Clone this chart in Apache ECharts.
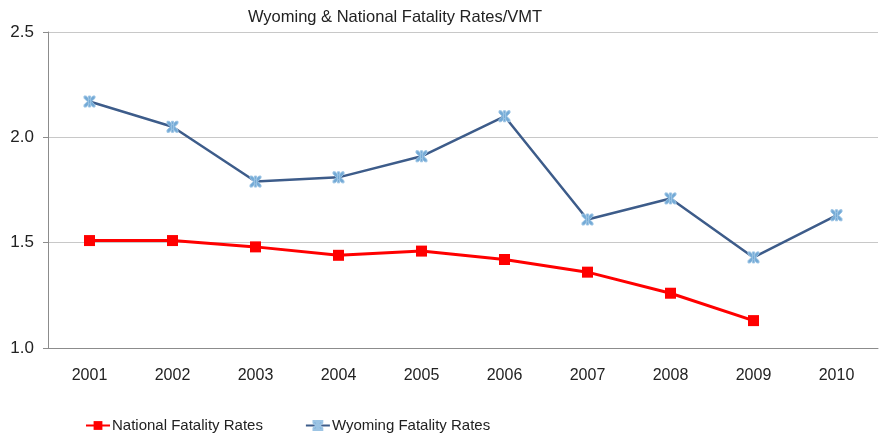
<!DOCTYPE html>
<html>
<head>
<meta charset="utf-8">
<script src="https://cdn.jsdelivr.net/npm/echarts@6/dist/echarts.min.js"></script>
<style>
  html, body { margin: 0; padding: 0; background: #fff; }
  #chart { width: 881px; height: 435px; }
</style>
</head>
<body>
<div id="chart"></div>
<script>
  // 年份 x轴
  const years = ['2001', '2002', '2003', '2004', '2005', '2006', '2007', '2008', '2009', '2010']
  // 全国死亡率
  const nationalRates = [1.51, 1.51, 1.48, 1.44, 1.46, 1.42, 1.36, 1.26, 1.13, null]
  // 怀俄明死亡率
  const wyomingRates = [2.17, 2.05, 1.79, 1.81, 1.91, 2.10, 1.61, 1.71, 1.43, 1.63]

  const font = '"Liberation Sans", Arial, sans-serif'
  const chart = echarts.init(document.getElementById('chart'))
  const option = {
    animation: false,
    title: {
      text: 'Wyoming & National Fatality Rates/VMT',
      left: 390,
      top: 4,
      textAlign: 'center',
      textStyle: {
        fontFamily: font,
        fontWeight: 'normal',
        fontSize: 16.5,
        color: '#222'
      }
    },
    legend: {
      top: 413,
      left: 80,
      itemGap: 42,
      itemWidth: 24,
      itemHeight: 11,
      textStyle: {
        fontFamily: font,
        fontSize: 15,
        color: '#222',
        padding: [0, 0, 0, -3]
      },
      data: ['National Fatality Rates', 'Wyoming Fatality Rates']
    },
    grid: {
      left: 48,
      right: 3,
      top: 32,
      bottom: 87
    },
    xAxis: {
      type: 'category',
      data: years,
      axisLine: { lineStyle: { color: '#8c8c8c', width: 1 } },
      axisTick: { show: false },
      axisLabel: {
        margin: 20,
        fontFamily: font,
        fontSize: 16,
        color: '#222'
      }
    },
    yAxis: {
      type: 'value',
      min: 1.0,
      max: 2.5,
      interval: 0.5,
      axisLine: { show: true, lineStyle: { color: '#8c8c8c', width: 1 } },
      axisTick: { show: true, length: 5, lineStyle: { color: '#8c8c8c' } },
      axisLabel: {
        margin: 14,
        fontFamily: font,
        fontSize: 17,
        color: '#222',
        formatter: function (v) { return v.toFixed(1) }
      },
      splitLine: { lineStyle: { color: '#c8c8c8', width: 1 } }
    },
    series: [
      {
        name: 'National Fatality Rates',
        type: 'line',
        data: nationalRates,
        symbol: 'rect',
        symbolSize: 11,
        lineStyle: { color: '#ff0000', width: 3 },
        itemStyle: { color: '#ff0000' },
        z: 3
      },
      {
        name: 'Wyoming Fatality Rates',
        type: 'line',
        data: wyomingRates,
        symbol: 'path://M0,0 L2,0 L5,3 L8,0 L10,0 L10,2 L7,5 L10,8 L10,10 L8,10 L5,7 L2,10 L0,10 L0,8 L3,5 L0,2 Z M4,0 L6,0 L6,10 L4,10 Z',
        symbolSize: 11,
        lineStyle: { color: '#3d5c8a', width: 2.5 },
        itemStyle: { color: '#74aad6', borderColor: '#9cc4e4', borderWidth: 1 },
        z: 2
      }
    ]
  }
  chart.setOption(option)
</script>
</body>
</html>
